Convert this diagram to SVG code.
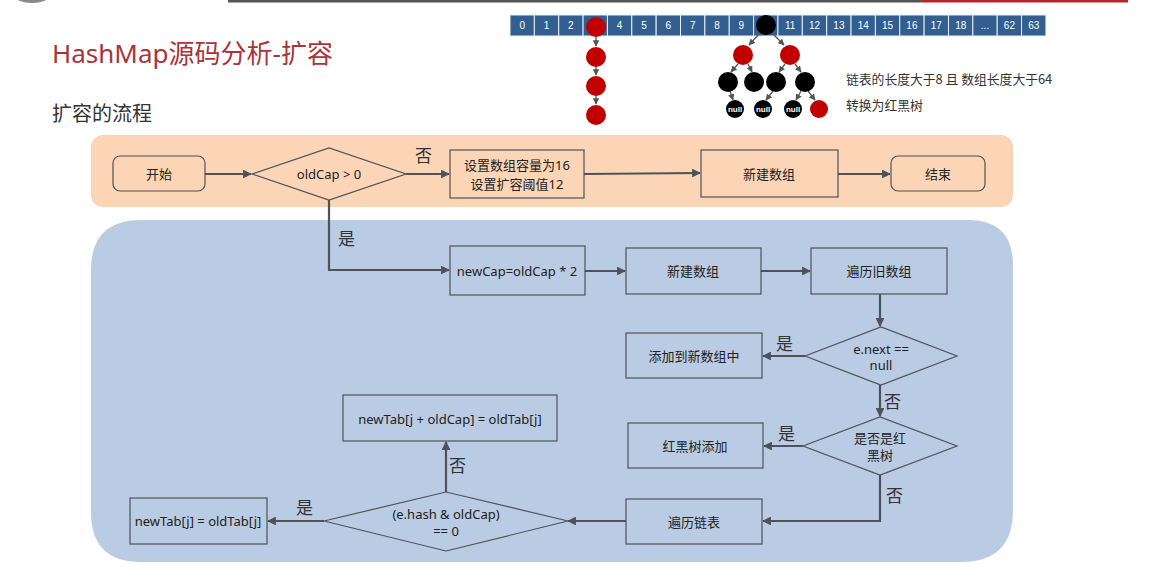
<svg xmlns="http://www.w3.org/2000/svg" width="1163" height="570" viewBox="0 0 1163 570">
<defs>
<style>
text{font-family:"Noto Sans","Noto Sans CJK SC",sans-serif;fill:#222;}
.n{font-size:13px;text-anchor:middle;dominant-baseline:central;}
.lbl{font-size:17px;fill:#333;dominant-baseline:central;font-family:"Noto Sans CJK SC",sans-serif;}
.box{fill:none;stroke:#4d5359;stroke-width:1.2;}
.cn{stroke:#4d5359;stroke-width:2.2;fill:none;}
.cell{fill:#335e90;stroke:#e8eef5;stroke-width:1;}
.ct{font-size:10px;fill:#fff;text-anchor:middle;dominant-baseline:central;font-family:"Liberation Sans",sans-serif;}
.tl{stroke:#555;stroke-width:1.3;fill:none;}
.red{fill:#c00000;}
.blk{fill:#000;}
.nt{font-size:8px;fill:#fff;text-anchor:middle;dominant-baseline:central;font-family:"Liberation Sans",sans-serif;font-weight:bold;}
.note{font-size:12.8px;fill:#333;dominant-baseline:central;font-family:"Noto Sans CJK SC",sans-serif;}
</style>
<marker id="ah" viewBox="0 0 10 10" refX="9" refY="5" markerWidth="4" markerHeight="4" orient="auto" markerUnits="strokeWidth">
<path d="M0,0 L10,5 L0,10 z" fill="#4d5359"/>
</marker>
<marker id="sa" viewBox="0 0 10 10" refX="9" refY="5" markerWidth="5" markerHeight="5" orient="auto" markerUnits="strokeWidth">
<path d="M0,0 L10,5 L0,10 z" fill="#555"/>
</marker>
</defs>
<rect width="1163" height="570" fill="#fff"/>
<!-- top decoration -->
<rect x="228" y="0" width="694" height="2.5" fill="#555"/>
<rect x="922" y="0" width="206" height="2.5" fill="#b3262e"/>
<ellipse cx="32" cy="-4" rx="17" ry="7" fill="#888"/>
<!-- title -->
<text x="52" y="63" style="font-size:26px;fill:#a8353a;font-family:'Noto Sans','Noto Sans CJK SC',sans-serif">HashMap源码分析-扩容</text>
<text x="52" y="121" style="font-size:20px;fill:#333;font-family:'Noto Sans CJK SC',sans-serif">扩容的流程</text>
<!-- array illustration -->
<g id="array">
<rect class="cell" x="510" y="15" width="24.36" height="21"/>
<rect class="cell" x="534.36" y="15" width="24.36" height="21"/>
<rect class="cell" x="558.72" y="15" width="24.36" height="21"/>
<rect class="cell" x="583.08" y="15" width="24.36" height="21"/>
<rect class="cell" x="607.44" y="15" width="24.36" height="21"/>
<rect class="cell" x="631.8" y="15" width="24.36" height="21"/>
<rect class="cell" x="656.16" y="15" width="24.36" height="21"/>
<rect class="cell" x="680.52" y="15" width="24.36" height="21"/>
<rect class="cell" x="704.88" y="15" width="24.36" height="21"/>
<rect class="cell" x="729.24" y="15" width="24.36" height="21"/>
<rect class="cell" x="753.6" y="15" width="24.36" height="21"/>
<rect class="cell" x="777.96" y="15" width="24.36" height="21"/>
<rect class="cell" x="802.32" y="15" width="24.36" height="21"/>
<rect class="cell" x="826.68" y="15" width="24.36" height="21"/>
<rect class="cell" x="851.04" y="15" width="24.36" height="21"/>
<rect class="cell" x="875.4" y="15" width="24.36" height="21"/>
<rect class="cell" x="899.76" y="15" width="24.36" height="21"/>
<rect class="cell" x="924.12" y="15" width="24.36" height="21"/>
<rect class="cell" x="948.48" y="15" width="24.36" height="21"/>
<rect class="cell" x="972.84" y="15" width="24.36" height="21"/>
<rect class="cell" x="997.2" y="15" width="24.36" height="21"/>
<rect class="cell" x="1021.56" y="15" width="24.36" height="21"/>
<text class="ct" x="522.2" y="25.5">0</text>
<text class="ct" x="546.5" y="25.5">1</text>
<text class="ct" x="570.9" y="25.5">2</text>
<text class="ct" x="619.6" y="25.5">4</text>
<text class="ct" x="644" y="25.5">5</text>
<text class="ct" x="668.3" y="25.5">6</text>
<text class="ct" x="692.7" y="25.5">7</text>
<text class="ct" x="717.1" y="25.5">8</text>
<text class="ct" x="741.4" y="25.5">9</text>
<text class="ct" x="790.1" y="25.5">11</text>
<text class="ct" x="814.5" y="25.5">12</text>
<text class="ct" x="838.9" y="25.5">13</text>
<text class="ct" x="863.2" y="25.5">14</text>
<text class="ct" x="887.6" y="25.5">15</text>
<text class="ct" x="911.9" y="25.5">16</text>
<text class="ct" x="936.3" y="25.5">17</text>
<text class="ct" x="960.7" y="25.5">18</text>
<text class="ct" x="985" y="25.5">...</text>
<text class="ct" x="1009.4" y="25.5">62</text>
<text class="ct" x="1033.7" y="25.5">63</text>
</g>
<g id="chain">
<line class="tl" x1="596" y1="36" x2="596" y2="46" marker-end="url(#sa)"/>
<line class="tl" x1="596" y1="66" x2="596" y2="75" marker-end="url(#sa)"/>
<line class="tl" x1="596" y1="95" x2="596" y2="104" marker-end="url(#sa)"/>
<circle class="red" cx="596" cy="27" r="10"/>
<circle class="red" cx="596" cy="57" r="10"/>
<circle class="red" cx="596" cy="86" r="10"/>
<circle class="red" cx="596" cy="115" r="10"/>
</g>
<g id="tree">
<line class="tl" x1="760" y1="33" x2="749" y2="45" marker-end="url(#sa)"/>
<line class="tl" x1="772" y1="33" x2="784" y2="45" marker-end="url(#sa)"/>
<line class="tl" x1="738" y1="64" x2="731" y2="72" marker-end="url(#sa)"/>
<line class="tl" x1="748" y1="64" x2="752" y2="72" marker-end="url(#sa)"/>
<line class="tl" x1="785" y1="64" x2="779" y2="72" marker-end="url(#sa)"/>
<line class="tl" x1="795" y1="64" x2="801" y2="72" marker-end="url(#sa)"/>
<line class="tl" x1="730" y1="91" x2="733" y2="100" marker-end="url(#sa)"/>
<line class="tl" x1="773" y1="91" x2="766" y2="100" marker-end="url(#sa)"/>
<line class="tl" x1="801" y1="91" x2="796" y2="100" marker-end="url(#sa)"/>
<line class="tl" x1="808" y1="91" x2="815" y2="100" marker-end="url(#sa)"/>
<circle class="blk" cx="766" cy="25" r="10"/>
<circle class="red" cx="743" cy="55" r="10"/>
<circle class="red" cx="790" cy="55" r="10"/>
<circle class="blk" cx="728" cy="82" r="10"/>
<circle class="blk" cx="754" cy="82" r="10"/>
<circle class="blk" cx="776" cy="82" r="10"/>
<circle class="blk" cx="805" cy="82" r="10"/>
<circle class="blk" cx="735" cy="109" r="9"/>
<circle class="blk" cx="763" cy="109" r="9"/>
<circle class="blk" cx="793" cy="109" r="9"/>
<circle class="red" cx="819" cy="109" r="9"/>
<text class="nt" x="735" y="109">null</text>
<text class="nt" x="763" y="109">null</text>
<text class="nt" x="793" y="109">null</text>
</g>
<text class="note" x="846" y="78">链表的长度大于8 且 数组长度大于64</text>
<text class="note" x="846" y="104">转换为红黑树</text>
<!-- panels -->
<rect x="91" y="135" width="922" height="72" rx="12" fill="#fbd5b6"/>
<path d="M141,220 H968 Q1013,220 1013,265 V510 Q1013,562 961,562 H141 Q91,562 91,512 V270 Q91,220 141,220 Z" fill="#b9cce3"/>
<!-- connectors -->
<g id="connectors">
<line class="cn" x1="205" y1="174" x2="251" y2="174" marker-end="url(#ah)"/>
<line class="cn" x1="406" y1="174" x2="449" y2="174" marker-end="url(#ah)"/>
<line class="cn" x1="584" y1="174" x2="700" y2="173" marker-end="url(#ah)"/>
<line class="cn" x1="838" y1="174" x2="890" y2="174" marker-end="url(#ah)"/>
<polyline class="cn" points="329,200 329,270 449,270" marker-end="url(#ah)"/>
<line class="cn" x1="585" y1="271" x2="625" y2="271" marker-end="url(#ah)"/>
<line class="cn" x1="761" y1="271" x2="810" y2="271" marker-end="url(#ah)"/>
<line class="cn" x1="880" y1="294" x2="880" y2="326" marker-end="url(#ah)"/>
<line class="cn" x1="805" y1="356" x2="763" y2="356" marker-end="url(#ah)"/>
<line class="cn" x1="880" y1="385" x2="880" y2="416" marker-end="url(#ah)"/>
<line class="cn" x1="803" y1="446" x2="764" y2="446" marker-end="url(#ah)"/>
<polyline class="cn" points="880,475 880,521 763,521" marker-end="url(#ah)"/>
<line class="cn" x1="626" y1="521" x2="568" y2="521" marker-end="url(#ah)"/>
<line class="cn" x1="324" y1="521" x2="268" y2="521" marker-end="url(#ah)"/>
<line class="cn" x1="446" y1="492" x2="446" y2="442" marker-end="url(#ah)"/>
<text class="lbl" x="415" y="154">否</text>
<text class="lbl" x="338" y="237">是</text>
<text class="lbl" x="776" y="342">是</text>
<text class="lbl" x="884" y="400">否</text>
<text class="lbl" x="778" y="432">是</text>
<text class="lbl" x="886" y="494">否</text>
<text class="lbl" x="296" y="506">是</text>
<text class="lbl" x="449" y="464">否</text>
</g>
<!-- nodes -->
<g id="start"><rect class="box" x="113" y="156" width="92" height="35" rx="7"/><text class="n" x="159" y="174">开始</text></g>
<g id="check-oldcap"><polygon class="box" points="252,174 329,148 406,174 329,200"/><text class="n" x="329" y="174">oldCap &gt; 0</text></g>
<g id="init-cap"><rect class="box" x="450" y="150" width="134" height="48"/><text class="n" x="517" y="165">设置数组容量为16</text><text class="n" x="517" y="184">设置扩容阈值12</text></g>
<g id="new-array-1"><rect class="box" x="701" y="150" width="137" height="47"/><text class="n" x="769" y="174">新建数组</text></g>
<g id="end"><rect class="box" x="891" y="156" width="94" height="35" rx="7"/><text class="n" x="938" y="174">结束</text></g>
<g id="new-cap"><rect class="box" x="450" y="246" width="135" height="49"/><text class="n" x="517" y="271">newCap=oldCap * 2</text></g>
<g id="new-array-2"><rect class="box" x="626" y="248" width="135" height="46"/><text class="n" x="693" y="271">新建数组</text></g>
<g id="iterate-old"><rect class="box" x="811" y="248" width="136" height="46"/><text class="n" x="879" y="271">遍历旧数组</text></g>
<g id="check-next"><polygon class="box" points="805,356 881,327 957,356 881,385"/><text class="n" x="881" y="349">e.next ==</text><text class="n" x="881" y="365">null</text></g>
<g id="add-new"><rect class="box" x="626" y="333" width="136" height="45"/><text class="n" x="694" y="356">添加到新数组中</text></g>
<g id="check-tree"><polygon class="box" points="803,446 880,417 957,446 880,475"/><text class="n" x="880" y="438">是否是红</text><text class="n" x="880" y="455">黑树</text></g>
<g id="tree-add"><rect class="box" x="628" y="423" width="135" height="45"/><text class="n" x="695" y="446">红黑树添加</text></g>
<g id="iterate-list"><rect class="box" x="626" y="499" width="136" height="45"/><text class="n" x="694" y="522">遍历链表</text></g>
<g id="check-hash"><polygon class="box" points="324,521 446,492 568,521 446,551"/><text class="n" x="446" y="514">(e.hash &amp; oldCap)</text><text class="n" x="446" y="531">== 0</text></g>
<g id="new-tab-hi"><rect class="box" x="343" y="395" width="214" height="46"/><text class="n" x="450" y="419">newTab[j + oldCap] = oldTab[j]</text></g>
<g id="new-tab-lo"><rect class="box" x="130" y="498" width="137" height="46"/><text class="n" x="198" y="521">newTab[j] = oldTab[j]</text></g>
</svg>
